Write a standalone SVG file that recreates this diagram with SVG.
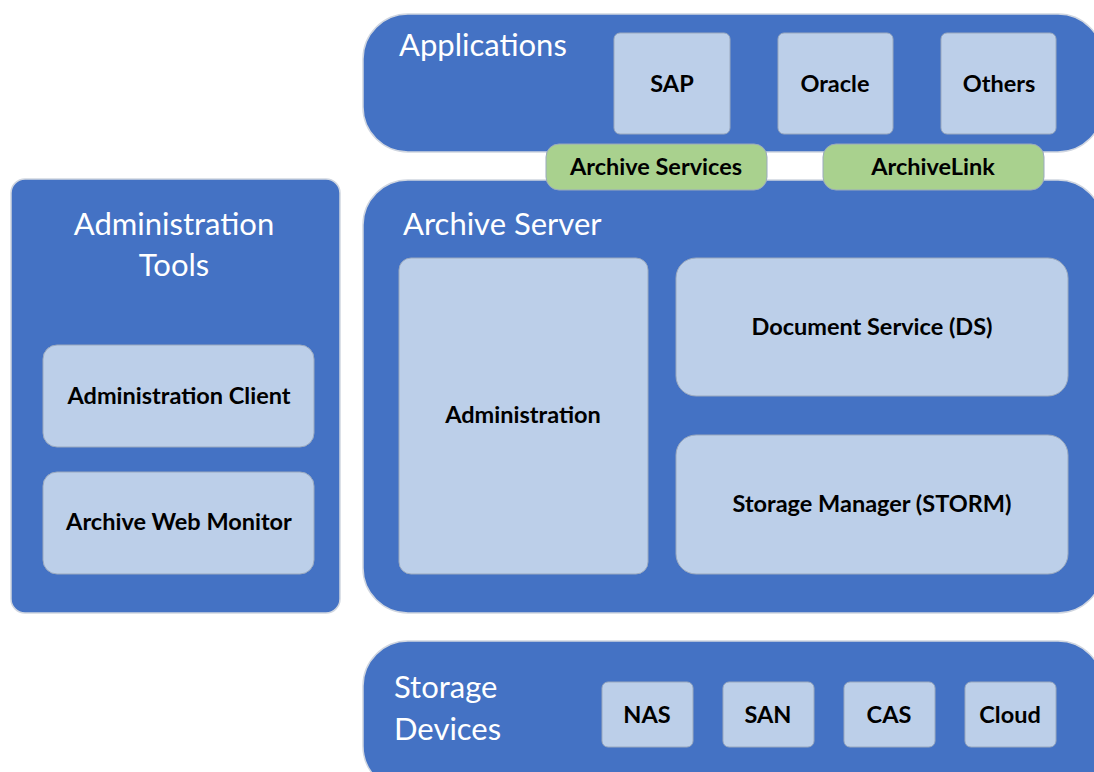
<svg xmlns="http://www.w3.org/2000/svg" width="1094" height="772" viewBox="0 0 1094 772">
<style>
.big{fill:#4472C4;stroke:#d0d6e0;stroke-width:1.5}
.in{fill:#BCCFE9;stroke:#9aa9bf;stroke-width:1}
.gr{fill:#A9D18E;stroke:#9aa9bf;stroke-width:1}
.t{font-family:Lato,"Open Sans","Liberation Sans",sans-serif;fill:#fff;font-size:31px}
.l{font-family:Lato,"Open Sans","Liberation Sans",sans-serif;fill:#000;font-size:23.5px;font-weight:bold;text-anchor:middle;dominant-baseline:central}
</style>
<rect width="1094" height="772" fill="#fff"/>
<g id="applications">
<rect class="big" x="363" y="14" width="740" height="138" rx="45"/>
<text class="t" x="399" y="56">Applications</text>
</g>
<g id="sap"><rect class="in" x="614" y="33" width="116" height="101" rx="6"/><text class="l" x="672" y="83">SAP</text></g>
<g id="oracle"><rect class="in" x="778" y="33" width="115" height="101" rx="6"/><text class="l" x="835" y="83">Oracle</text></g>
<g id="others"><rect class="in" x="941" y="33" width="115" height="101" rx="6"/><text class="l" x="999" y="83">Others</text></g>
<g id="archive-server">
<rect class="big" x="363" y="180" width="740" height="433" rx="45"/>
<text class="t" x="403" y="235">Archive Server</text>
</g>
<g id="archive-services"><rect class="gr" x="546" y="144" width="221" height="46" rx="13"/><text class="l" x="656" y="166">Archive Services</text></g>
<g id="archivelink"><rect class="gr" x="823" y="144" width="221" height="46" rx="13"/><text class="l" x="933" y="166">ArchiveLink</text></g>
<g id="administration"><rect class="in" x="399" y="258" width="249" height="316" rx="12"/><text class="l" x="523" y="414">Administration</text></g>
<g id="document-service"><rect class="in" x="676" y="258" width="392" height="138" rx="20"/><text class="l" x="872" y="326">Document Service (DS)</text></g>
<g id="storage-manager"><rect class="in" x="676" y="435" width="392" height="139" rx="20"/><text class="l" x="872" y="503">Storage Manager (STORM)</text></g>
<g id="administration-tools">
<rect class="big" x="11" y="179" width="329" height="434" rx="14"/>
<text class="t" x="174" y="235" text-anchor="middle">Administration</text>
<text class="t" x="174" y="276" text-anchor="middle">Tools</text>
</g>
<g id="administration-client"><rect class="in" x="43" y="345" width="271" height="102" rx="14"/><text class="l" x="179" y="395">Administration Client</text></g>
<g id="archive-web-monitor"><rect class="in" x="43" y="472" width="271" height="102" rx="14"/><text class="l" x="179" y="521">Archive Web Monitor</text></g>
<g id="storage-devices">
<rect class="big" x="363" y="641" width="740" height="150" rx="45"/>
<text class="t" x="394" y="698">Storage</text>
<text class="t" x="394" y="740">Devices</text>
</g>
<g id="nas"><rect class="in" x="602" y="682" width="91" height="65" rx="6"/><text class="l" x="647" y="714">NAS</text></g>
<g id="san"><rect class="in" x="723" y="682" width="91" height="65" rx="6"/><text class="l" x="768" y="714">SAN</text></g>
<g id="cas"><rect class="in" x="844" y="682" width="91" height="65" rx="6"/><text class="l" x="889" y="714">CAS</text></g>
<g id="cloud"><rect class="in" x="965" y="682" width="91" height="65" rx="6"/><text class="l" x="1010" y="714">Cloud</text></g>
<g id="connectors"></g>
</svg>
